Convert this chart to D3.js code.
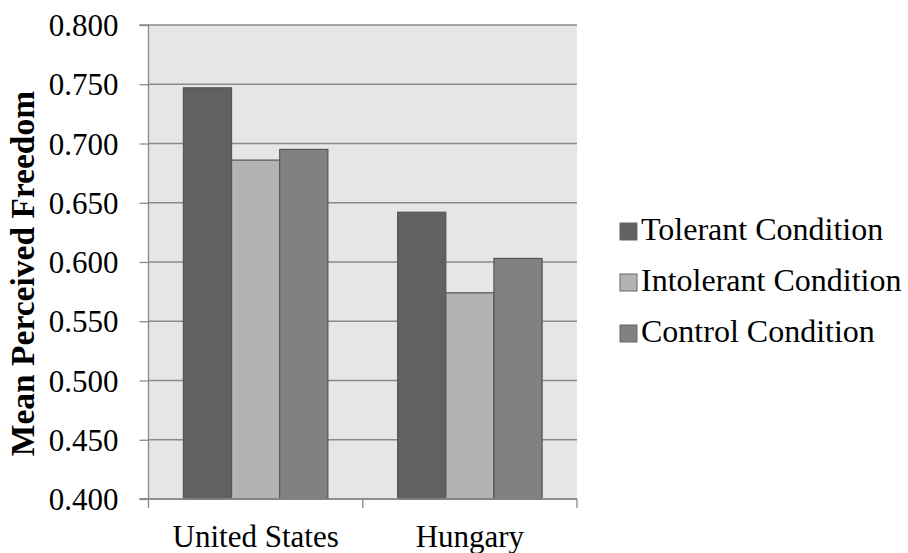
<!DOCTYPE html>
<html>
<head>
<meta charset="utf-8">
<script src="https://cdn.jsdelivr.net/npm/d3@7"></script>
<style>
  html, body { margin: 0; padding: 0; background: #ffffff; }
  svg { display: block; }
  text { font-family: "Liberation Serif", "Times New Roman", serif; fill: #000; }
</style>
</head>
<body>
<svg id="chart" width="908" height="553"></svg>
<script>
// Data
const countries = ["United States", "Hungary"];
const seriesNames = ["Tolerant Condition", "Intolerant Condition", "Control Condition"];
const tolerant = [0.747, 0.642];
const intolerant = [0.686, 0.574];
const control = [0.695, 0.603];
const yTicks = [0.400, 0.450, 0.500, 0.550, 0.600, 0.650, 0.700, 0.750, 0.800];

const seriesValues = [tolerant, intolerant, control];
const colors = ["#616161", "#b3b3b3", "#818181"];

const svg = d3.select("#chart");
const plot = { left: 148.5, right: 577, top: 25, bottom: 499 };

const x = d3.scaleBand().domain(countries).range([plot.left, plot.right]).padding(0);
const xInner = d3.scaleBand().domain(seriesNames).range([0, x.bandwidth()])
  .paddingInner(0).paddingOuter(0.725);
const y = d3.scaleLinear().domain([0.4, 0.8]).range([plot.bottom, plot.top]);

// Plot background
svg.append("rect")
  .attr("x", plot.left).attr("y", plot.top)
  .attr("width", plot.right - plot.left).attr("height", plot.bottom - plot.top)
  .attr("fill", "#e6e6e6");

// Horizontal gridlines
svg.append("g").selectAll("line").data(yTicks).join("line")
  .attr("x1", plot.left).attr("x2", plot.right)
  .attr("y1", d => y(d)).attr("y2", d => y(d))
  .attr("stroke", "#8a8a8a").attr("stroke-width", 1.3);

// Bars
const groups = svg.append("g").selectAll("g").data(countries).join("g")
  .attr("transform", c => `translate(${x(c)},0)`);
groups.selectAll("rect")
  .data((c, ci) => seriesNames.map((s, si) => ({ s, si, v: seriesValues[si][ci] })))
  .join("rect")
  .attr("x", d => xInner(d.s))
  .attr("width", xInner.bandwidth())
  .attr("y", d => y(d.v))
  .attr("height", d => y(0.4) - y(d.v))
  .attr("fill", d => colors[d.si])
  .attr("stroke", "#555555")
  .attr("stroke-width", 1.2);

// Y axis
const yAxis = d3.axisLeft(y).tickValues(yTicks).tickFormat(d3.format(".3f"))
  .tickSize(9).tickPadding(21);
const gy = svg.append("g").attr("transform", `translate(${plot.left},0)`).call(yAxis);
gy.select(".domain").attr("stroke", "#8a8a8a").attr("stroke-width", 1.3)
  .attr("d", `M-9,${plot.top}H0V${plot.bottom}H-9`);
gy.selectAll(".tick line").attr("stroke", "#8a8a8a").attr("stroke-width", 1.3);
gy.selectAll(".tick text")
  .style("font-family", "'Liberation Serif', 'Times New Roman', serif")
  .style("font-size", "31px").attr("fill", "#000").attr("dy", "0.34em");

// X axis baseline and boundary ticks
const gx = svg.append("g");
gx.append("line")
  .attr("x1", plot.left - 9).attr("x2", plot.right)
  .attr("y1", plot.bottom).attr("y2", plot.bottom)
  .attr("stroke", "#8a8a8a").attr("stroke-width", 1.3);
const boundaries = countries.map(c => x(c)).concat([x(countries[countries.length - 1]) + x.bandwidth()]);
gx.selectAll("line.tick").data(boundaries).join("line")
  .attr("class", "tick")
  .attr("x1", d => d).attr("x2", d => d)
  .attr("y1", plot.bottom).attr("y2", plot.bottom + 9)
  .attr("stroke", "#8a8a8a").attr("stroke-width", 1.3);
gx.selectAll("text").data(countries).join("text")
  .attr("x", c => x(c) + x.bandwidth() / 2)
  .attr("y", 546.5)
  .attr("text-anchor", "middle")
  .style("font-size", "31px")
  .text(c => c);

// Y axis title
svg.append("text")
  .attr("transform", "translate(33.5,273.5) rotate(-90)")
  .attr("text-anchor", "middle")
  .style("font-size", "33.5px")
  .style("font-weight", "bold")
  .text("Mean Perceived Freedom");

// Legend
const legend = svg.append("g").attr("transform", "translate(620,0)");
const rows = legend.selectAll("g").data(seriesNames).join("g")
  .attr("transform", (d, i) => `translate(0,${240 + i * 51})`);
rows.append("rect")
  .attr("x", 0).attr("y", -17)
  .attr("width", 17).attr("height", 17)
  .attr("fill", (d, i) => colors[i])
  .attr("stroke", "#666666").attr("stroke-width", 1);
rows.append("text")
  .attr("x", 21).attr("y", 0)
  .style("font-size", "32px")
  .text(d => d);
</script>
</body>
</html>
